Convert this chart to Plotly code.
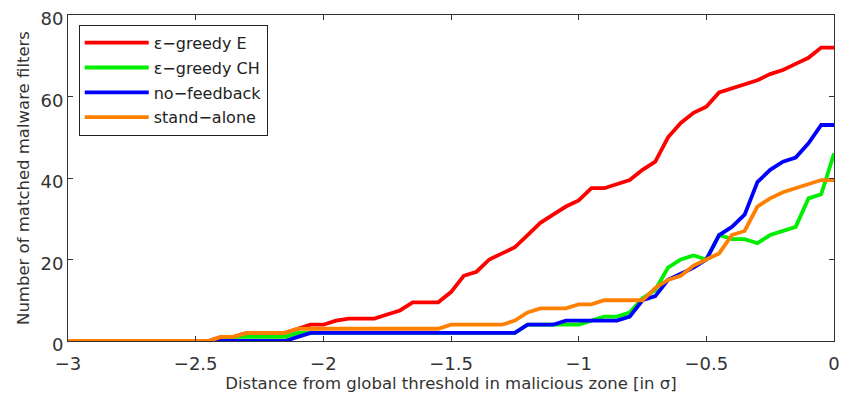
import plotly.graph_objects as go

x_vals = [round(-3 + 0.05 * i, 2) for i in range(61)]

greedy_e = [0]*12 + [1, 1, 2, 2, 2, 2, 3, 4, 4, 5, 5.5, 5.5, 5.5, 6.5, 7.5, 9.5, 9.5, 9.5,
            12, 16, 17, 20, 21.5, 23, 26, 29, 31, 33, 34.5, 37.5, 37.5, 38.5, 39.5, 42, 44,
            50, 53.5, 56, 57.5, 61, 62, 63, 64, 65.5, 66.5, 68, 69.5, 72, 72]
greedy_ch = [0]*13 + [1, 1, 1, 1, 1, 2] + [2]*17 + [4, 4, 4, 4, 4, 5, 6, 6, 7, 10.5, 12.5,
             18, 20, 21, 20, 26, 25, 25, 24, 26, 27, 28, 35, 36, 46]
no_feedback = [0]*18 + [1] + [2]*17 + [4, 4, 4, 5, 5, 5, 5, 5, 6, 10, 11, 15, 16.5, 18, 20,
               26, 28, 31, 39, 42, 44, 45, 48.5, 53, 53]
stand_alone = [0]*12 + [1, 1, 2, 2, 2, 2] + [3]*12 + [4, 4, 4, 4, 4, 5, 7, 8, 8, 8, 9, 9,
               10, 10, 10, 10, 13, 15, 16, 18.5, 20, 21.5, 26, 27, 33, 35, 36.5, 37.5, 38.5,
               39.5, 39.5]

x_ticks = [-3, -2.5, -2, -1.5, -1, -0.5, 0]
y_ticks = [0, 20, 40, 60, 80]

series = [
    ("ε−greedy E", greedy_e, "#ff0000"),
    ("ε−greedy CH", greedy_ch, "#00ee00"),
    ("no−feedback", no_feedback, "#0000ff"),
    ("stand−alone", stand_alone, "#ff8000"),
]

fig = go.Figure()
for i, (name, ys, col) in enumerate(series):
    fig.add_trace(go.Scatter(x=x_vals, y=ys, mode="lines", name=name, legendgroup=f"g{i}",
                             line=dict(color=col, width=3.8)))

axis_common = dict(showline=True, linecolor="#333333", linewidth=1, mirror="ticks",
                   ticks="inside", ticklen=5, tickcolor="#333333", showgrid=False,
                   zeroline=False, ticklabeloverflow="allow",
                   tickfont=dict(family="DejaVu Sans", size=18, color="#333333"))

fig.update_layout(
    width=841, height=399,
    margin=dict(l=68, r=1, t=15, b=58),
    paper_bgcolor="white", plot_bgcolor="white",
    font=dict(family="DejaVu Sans", size=16.5, color="#333333"),
    xaxis=dict(range=[-3, 0], tickvals=x_ticks, ticklabelstandoff=6,
               title=dict(text="Distance from global threshold in malicious zone [in σ]",
                          font=dict(size=16.5), standoff=4),
               **axis_common),
    yaxis=dict(range=[0, 80], tickvals=y_ticks, ticklabelshift=4,
               title=dict(text="Number of matched malware filters", font=dict(size=16.5),
                          standoff=6),
               **axis_common),
    legend=dict(x=0.014, y=0.97, xanchor="left", yanchor="top",
                bgcolor="white", bordercolor="#222222", borderwidth=1,
                font=dict(size=16, color="#222222"), tracegroupgap=1,
                itemwidth=64),
    showlegend=True,
)

fig.write_html("out.html", config={"displayModeBar": False},
               post_script="document.body.style.margin='0';")
